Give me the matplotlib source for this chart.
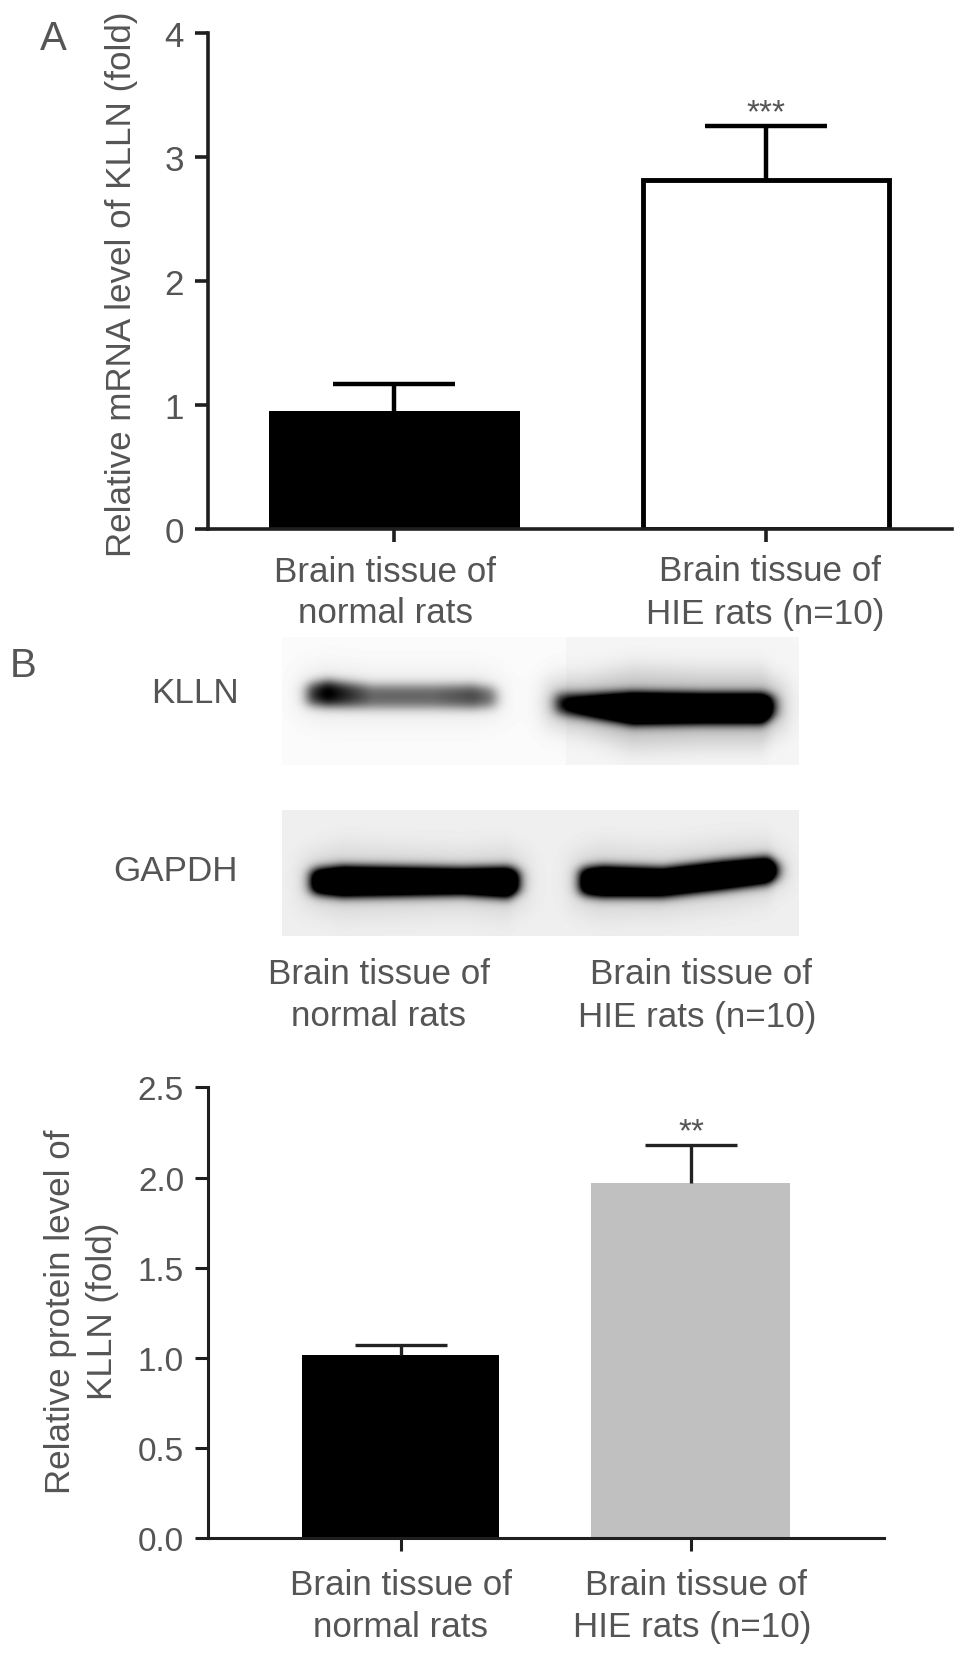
"""
Two-panel figure: KLLN mRNA bars (A), western blot and KLLN protein bars (B).
"""
import numpy as np
import matplotlib
matplotlib.use("Agg")
import matplotlib.pyplot as plt

plt.rcParams["font.family"] = ["Liberation Sans", "DejaVu Sans"]

# Data
mrna_means = [0.955, 2.81]
mrna_errs = [0.215, 0.44]
mrna_ticks = [0, 1, 2, 3, 4]
protein_means = [1.015, 1.97]
protein_errs = [0.055, 0.21]
protein_ticks = [0.0, 0.5, 1.0, 1.5, 2.0, 2.5]

# Blot bands: x, band centre y, half thickness, strength (pixels of the blot crop)
klln_left = dict(x=[24, 45, 90, 150, 190, 214], y=[57, 56, 59, 59, 59, 60],
                 h=[10, 12, 11, 11, 11, 9], s=[0.72, 1.0, 0.55, 0.55, 0.66, 0.5])
klln_right = dict(x=[273, 300, 350, 420, 480, 493], y=[66, 68, 71, 71, 71, 69],
                  h=[9, 10, 15, 14, 14, 10], s=[0.8, 1.25, 1.6, 1.6, 1.6, 1.0])
gapdh_left = dict(x=[29, 60, 120, 180, 225, 236], y=[71, 71, 71, 71, 72, 71],
                  h=[11, 14, 13, 12, 14, 11], s=[1.6, 1.7, 1.7, 1.7, 1.7, 1.6])
gapdh_right = dict(x=[298, 320, 380, 440, 485, 495], y=[71, 71, 72, 65, 60, 60],
                   h=[12, 14, 13, 13, 12, 8], s=[1.6, 1.7, 1.7, 1.7, 1.7, 1.5])

ink = "#1f1f1f"
text_grey = "#555555"
font_size = 25.2


def fx(x):
    return x / 916


def fy(y):
    return 1 - y / 1567.4


def add_axes_px(left, top, right, bottom):
    return fig.add_axes([fx(left), fy(bottom), fx(right) - fx(left), fy(top) - fy(bottom)])


def style_axes(ax, lw, tick_size):
    for side in ["top", "right"]:
        ax.spines[side].set_visible(False)
    for side in ["left", "bottom"]:
        ax.spines[side].set_linewidth(lw)
        ax.spines[side].set_color(ink)
    ax.tick_params(length=9.5, width=lw, color=ink, labelcolor=text_grey, labelsize=tick_size, pad=8)
    ax.set_xticks([0, 1])
    ax.set_xticklabels([])


def upper_errorbars(ax, means, errs, lw, capsize, colour):
    """ Errorbars going up only, the way they look on these bars. """
    _, caps, _ = ax.errorbar([0, 1], means, yerr=[[0, 0], errs], fmt="none", ecolor=colour,
                             elinewidth=lw, capsize=capsize, capthick=lw)
    caps[0].set_visible(False)


def band(xx, yy, b):
    """ Soft-edged dark band following the listed centre line. """
    yc = np.interp(xx, b["x"], b["y"])
    h = np.interp(xx, b["x"], b["h"])
    s = np.interp(xx, b["x"], b["s"])
    across = 0.5 * (1 - np.tanh((np.abs(yy - yc) - h) / 5))
    along = 0.5 * (np.tanh((xx - b["x"][0]) / 6) - np.tanh((xx - b["x"][-1]) / 6))
    return s * across * along


def smooth(img, sigma):
    offsets = np.arange(-3 * sigma, 3 * sigma + 1)
    kernel = np.exp(-0.5 * (offsets / sigma) ** 2)
    kernel /= kernel.sum()
    pad = len(kernel) // 2
    for axis in (0, 1):
        padded = np.pad(img, [(pad, pad) if i == axis else (0, 0) for i in (0, 1)], mode="edge")
        img = np.apply_along_axis(lambda row: np.convolve(row, kernel, mode="valid"), axis, padded)
    return img


def blot(width, height, bg, bands, halo):
    yy, xx = np.mgrid[0:height, 0:width].astype(float)
    dark = np.full(xx.shape, bg, dtype=float)
    for b, amount in zip(bands, halo):
        wide = [v * 2.6 for v in b["h"]]
        dark += amount * 0.5 * (1 - np.tanh((np.abs(yy - np.interp(xx, b["x"], b["y"]))
                                              - np.interp(xx, b["x"], wide)) / 14)) \
            * 0.5 * (np.tanh((xx - b["x"][0] + 10) / 12) - np.tanh((xx - b["x"][-1] - 10) / 12))
        dark += band(xx, yy, b)
    return np.clip(1 - smooth(dark, 3), 0, 1)


fig = plt.figure(figsize=(9.69, 16.58), dpi=100)

# Panel A
ax_a = add_axes_px(197, 32, 900, 501)
ax_a.bar(0, mrna_means[0], width=0.676, color="black", edgecolor="black", linewidth=0)
ax_a.bar(1, mrna_means[1], width=0.663, color="white", edgecolor="black", linewidth=3.5)
upper_errorbars(ax_a, mrna_means, mrna_errs, 3.2, 44, "black")
ax_a.set_xlim(-0.5, 1.5)
ax_a.set_ylim(0, 4)
ax_a.set_yticks(mrna_ticks)
style_axes(ax_a, 2.6, font_size)

# Panel B bars
ax_b = add_axes_px(197, 1029, 836, 1455)
ax_b.bar(0, protein_means[0], width=0.68, color="black", linewidth=0)
ax_b.bar(1, protein_means[1], width=0.685, color="#c0c0c0", linewidth=0)
upper_errorbars(ax_b, protein_means, protein_errs, 2.4, 33, "#222222")
ax_b.set_xlim(-0.664, 1.668)
ax_b.set_ylim(0, 2.5)
ax_b.set_yticks(protein_ticks)
ax_b.set_yticklabels([f"{v:.1f}" for v in protein_ticks])
style_axes(ax_b, 2.2, 24)

# Blots
ax_k = add_axes_px(267, 603, 755, 724)
top_img = blot(517, 128, 0.015, [klln_left, klln_right], [0.05, 0.2])
top_img[:, 284:] -= 0.02
ax_k.imshow(np.clip(top_img, 0, 1), cmap="gray", vmin=0, vmax=1, aspect="auto")
ax_k.axis("off")

ax_g = add_axes_px(267, 767, 755, 886)
ax_g.imshow(blot(517, 126, 0.06, [gapdh_left, gapdh_right], [0.09, 0.09]),
            cmap="gray", vmin=0, vmax=1, aspect="auto")
ax_g.axis("off")

# Text
lines = [
    ("A", 50, 37, 29), ("B", 22, 630, 29),
    ("Brain tissue of", 364, 541, font_size), ("normal rats", 364, 580, font_size),
    ("Brain tissue of", 728, 540, font_size), ("HIE rats (n=10)", 723, 581, font_size),
    ("Brain tissue of", 358, 921, font_size), ("normal rats", 358, 961, font_size),
    ("Brain tissue of", 663, 921, font_size), ("HIE rats (n=10)", 659, 962, font_size),
    ("Brain tissue of", 379, 1499, font_size), ("normal rats", 379, 1539, font_size),
    ("Brain tissue of", 658, 1499, font_size), ("HIE rats (n=10)", 654, 1539, font_size),
    ("KLLN", 184, 656, font_size), ("GAPDH", 166, 824, font_size),
    ("***", 724, 108, 24), ("**", 654, 1071, 24),
]
for label, x, y, size in lines:
    fig.text(fx(x), fy(y), label, ha="center", va="center", fontsize=size, color=text_grey)

fig.text(fx(115), fy(269), "Relative mRNA level of KLLN (fold)", rotation=90,
         ha="center", va="center", fontsize=font_size, color=text_grey)
fig.text(fx(57), fy(1240), "Relative protein level of", rotation=90,
         ha="center", va="center", fontsize=font_size, color=text_grey)
fig.text(fx(97), fy(1240), "KLLN (fold)", rotation=90,
         ha="center", va="center", fontsize=font_size, color=text_grey)

fig.savefig("out.png", dpi=100)
